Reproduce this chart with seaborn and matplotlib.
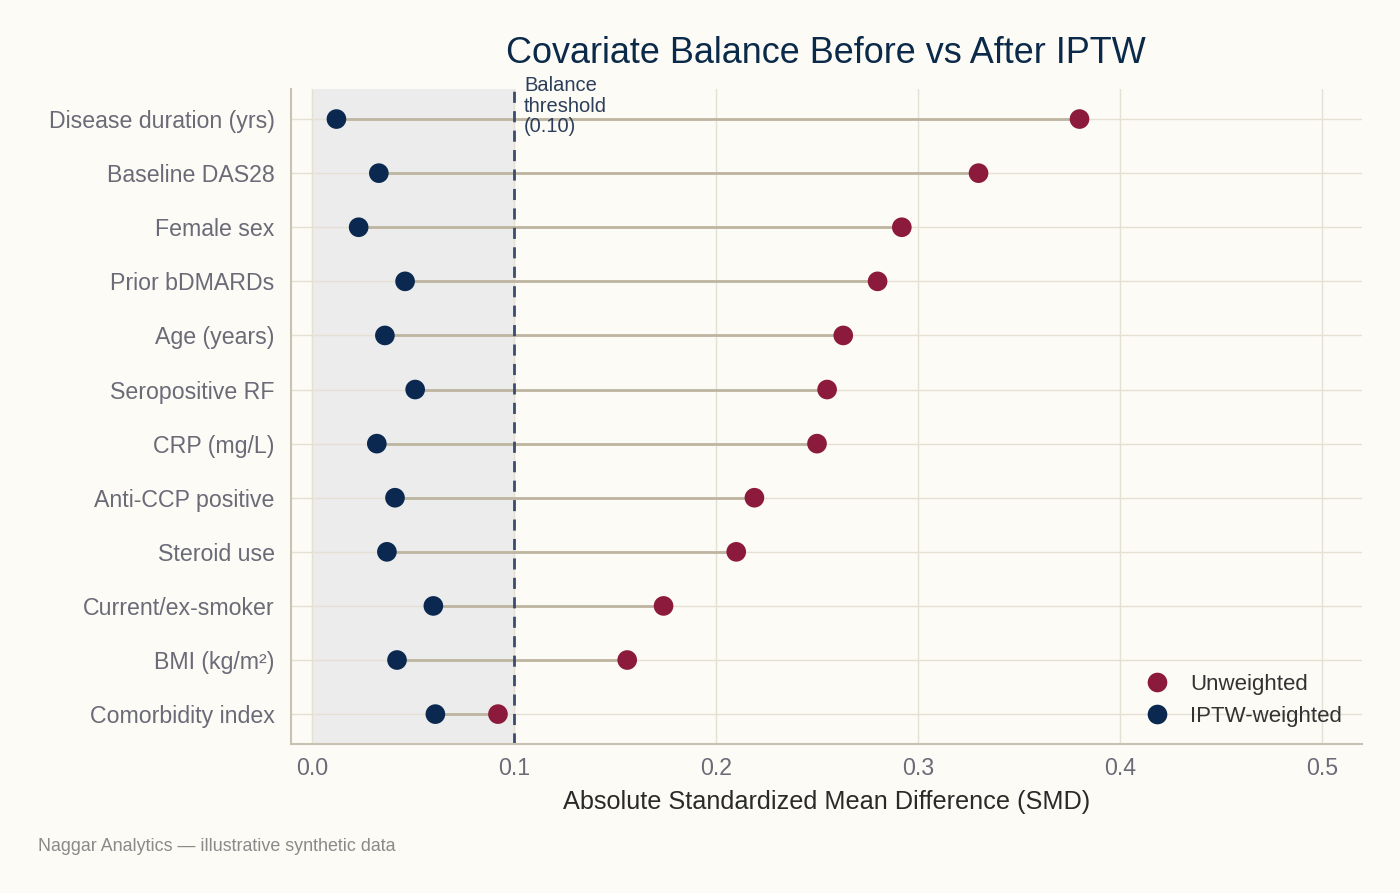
import numpy as np
import pandas as pd
import matplotlib
matplotlib.use("Agg")
import matplotlib.pyplot as plt
import seaborn as sns

# covariates, top to bottom as drawn
covariates = ["Disease duration (yrs)", "Baseline DAS28", "Female sex", "Prior bDMARDs",
              "Age (years)", "Seropositive RF", "CRP (mg/L)", "Anti-CCP positive",
              "Steroid use", "Current/ex-smoker", "BMI (kg/m²)", "Comorbidity index"]
smd_unweighted = [0.380, 0.330, 0.292, 0.280, 0.263, 0.255, 0.250, 0.219, 0.210, 0.174, 0.156, 0.092]
smd_iptw = [0.012, 0.033, 0.023, 0.046, 0.036, 0.051, 0.032, 0.041, 0.037, 0.060, 0.042, 0.061]
threshold = 0.10
x_ticks = [0.0, 0.1, 0.2, 0.3, 0.4, 0.5]

bg = "#fcfbf5"
col_unw = "#8c1a3c"
col_iptw = "#0a2850"

sns.set_theme(style="white")
plt.rcParams["font.family"] = ["Liberation Sans", "DejaVu Sans"]

df = pd.DataFrame({"Covariate": covariates * 2,
                   "SMD": smd_unweighted + smd_iptw,
                   "Weighting": ["Unweighted"] * len(covariates) + ["IPTW-weighted"] * len(covariates)})
df["pos"] = list(range(len(covariates))) * 2

fig = plt.figure(figsize=(14, 8.93), dpi=100, facecolor=bg)
ax = fig.add_axes([0.208, 0.167, 0.765, 0.733])
ax.set_facecolor(bg)

ax.axvspan(0, threshold, color="#ececec", zorder=0)
for t in x_ticks:
    ax.axvline(t, color="#e4e0d4", lw=1, zorder=0.5)
for i in range(len(covariates)):
    ax.axhline(i, color="#e4e0d4", lw=1, zorder=0.5)

ax.hlines(range(len(covariates)), smd_iptw, smd_unweighted, color="#bdb5a0", lw=2, zorder=1)
ax.axvline(threshold, color="#3a4d6e", lw=2, ls=(0, (4, 3)), zorder=2)

sns.scatterplot(data=df, x="SMD", y="pos", hue="Weighting",
                palette={"Unweighted": col_unw, "IPTW-weighted": col_iptw},
                s=200, edgecolor="none", linewidth=0, zorder=3, ax=ax)

ax.text(threshold + 0.005, -0.8, "Balance\nthreshold\n(0.10)", fontsize=14.5, color="#2c3e5c",
        va="top", ha="left", linespacing=1.12, zorder=4)

ax.set_ylim(len(covariates) - 0.45, -0.55)
ax.set_xlim(-0.0104, 0.52)
ax.set_yticks(range(len(covariates)))
ax.set_yticklabels(covariates)
ax.set_xticks(x_ticks)
ax.set_xticklabels([f"{t:.1f}" for t in x_ticks])
ax.tick_params(axis="both", labelsize=16.7, colors="#6b6b78", length=6, width=1.2, color="#9a9480")
ax.tick_params(axis="y", pad=6)
ax.set_ylabel("")
ax.set_xlabel("Absolute Standardized Mean Difference (SMD)", fontsize=18.2, color="#2a2a2a", labelpad=7)

for s in ["top", "right"]:
    ax.spines[s].set_visible(False)
for s in ["left", "bottom"]:
    ax.spines[s].set_color("#c8c2b0")
    ax.spines[s].set_linewidth(1.5)

leg = ax.legend(loc="lower right", frameon=False, fontsize=16, title=None,
                handletextpad=0.5, labelspacing=0.5, markerscale=1.0,
                bbox_to_anchor=(1.0, -0.005))
for txt in leg.get_texts():
    txt.set_color("#333333")

fig.text(0.59, 0.940, "Covariate Balance Before vs After IPTW", ha="center", va="center",
         fontsize=25.9, color="#0b2a4a")
fig.text(0.027, 0.047, "Naggar Analytics — illustrative synthetic data", fontsize=12.9, color="#8a8a8a")

fig.savefig("out.png", dpi=100, facecolor=bg)
